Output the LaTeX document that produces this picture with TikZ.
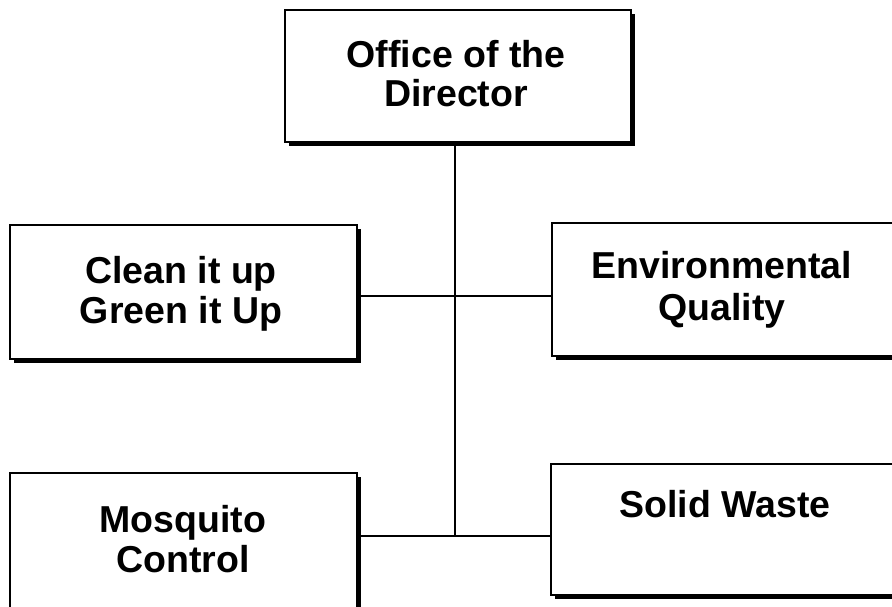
\documentclass[tikz,border=0pt]{standalone}
\usepackage{fontspec}
\setmainfont{Liberation Sans}
\usetikzlibrary{shadows}
\begin{document}
\begin{tikzpicture}[x=1pt,y=-1pt,
  unitbox/.style={draw=black, line width=1.2pt, fill=white, rectangle, inner sep=0pt,
    drop shadow={shadow xshift=4pt, shadow yshift=-4pt, fill=black, opacity=1}},
  caption/.style={anchor=base, inner sep=0pt, font=\bfseries\fontsize{37.5}{40}\selectfont},
  link/.style={draw=black, line width=1.2pt}]
  \useasboundingbox (0,0) rectangle (892,607);
  \begin{scope}
  \clip (0,0) rectangle (892,607);
  % units
  \node[unitbox, minimum width=346pt, minimum height=132pt] (dir) at (458,76) {};
  \node[unitbox, minimum width=347pt, minimum height=134pt] (clean) at (183.5,292) {};
  \node[unitbox, minimum width=346pt, minimum height=133pt] (env) at (725,289.5) {};
  \node[unitbox, minimum width=347pt, minimum height=147pt] (mos) at (183.5,546.5) {};
  \node[unitbox, minimum width=346pt, minimum height=131pt] (solid) at (724,529.5) {};
  % junctions on the trunk line
  \coordinate (j1) at (455,296);
  \coordinate (j2) at (455,536);
  \draw[link] (dir.south -| j1) -- (j2);
  \draw[link] (clean.east |- j1) -- (env.west |- j1);
  \draw[link] (mos.east |- j2) -- (solid.west |- j2);
  % labels
  \node[caption] (dir1) at (456,68) {Office of the};
  \node[caption] (dir2) at (456,107) {Director};
  \node[caption] (clean1) at (181,283) {Clean it up};
  \node[caption] (clean2) at (181,323) {Green it Up};
  \node[caption] (env1) at (722,278) {Environmental};
  \node[caption] (env2) at (722,320) {Quality};
  \node[caption] (mos1) at (183,532) {Mosquito};
  \node[caption] (mos2) at (183,572) {Control};
  \node[caption] (solid1) at (725,517) {Solid Waste};
  \end{scope}
\end{tikzpicture}
\end{document}
